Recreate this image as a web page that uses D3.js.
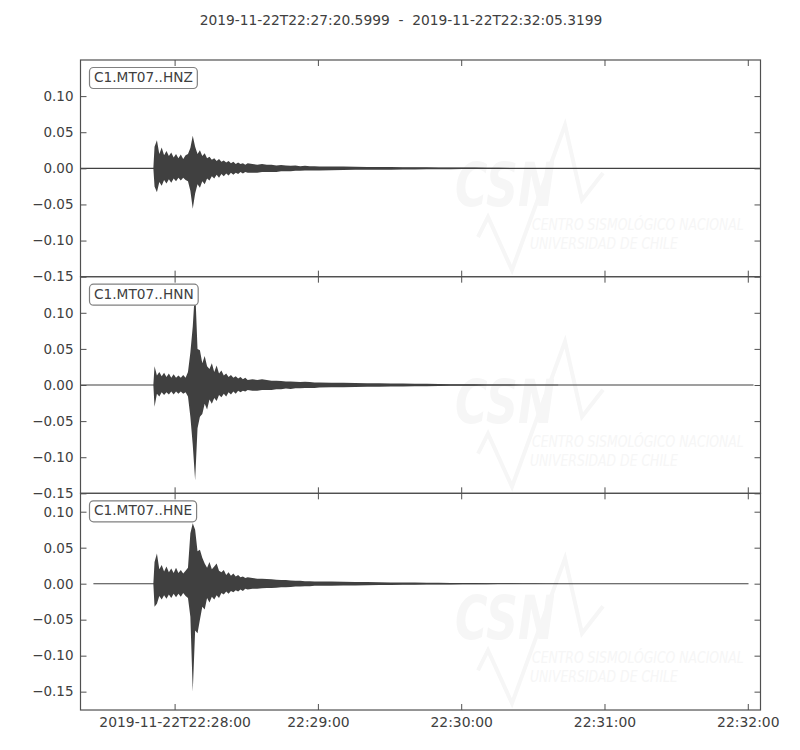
<!DOCTYPE html>
<html>
<head>
<meta charset="utf-8">
<script src="https://cdn.jsdelivr.net/npm/d3@7"></script>
<style>
  body { margin: 0; background: #fff; }
  svg text { font-family: "DejaVu Sans", sans-serif; fill: #404040; }
</style>
</head>
<body>
<svg id="chart" width="800" height="750"></svg>
<script>
// ---- data ----
const channels = ["C1.MT07..HNZ", "C1.MT07..HNN", "C1.MT07..HNE"];
const startLabel = "2019-11-22T22:27:20.5999";
const endLabel = "2019-11-22T22:32:05.3199";

// each trace start / end, seconds after the window start
const traceStartSec = [0, 0, 5.4];
const traceEndSec = [284.72, 281.8, 279.7];

// y range of every panel
const yLow = [-0.15, -0.15, -0.1755];
const yHigh = [0.15, 0.15, 0.1255];
const yTickValues = [0.10, 0.05, 0.00, -0.05, -0.10, -0.15];

// envelope sample times (s after start)
const tSec = [30.5,
  31, 32, 33, 34, 35, 36, 37, 38, 39, 40,
  41, 42, 43, 44, 45, 46, 47, 48, 49, 50,
  51, 52, 53, 54, 55, 56, 57, 58, 59, 60,
  61, 62, 63, 64, 65, 66, 67, 68, 69, 70,
  72, 74, 76, 78, 80, 82, 84, 86, 88, 90, 92, 94, 96, 98, 100,
  105, 110, 115, 120, 125, 130, 135, 140, 145, 150, 155, 160, 165, 170, 175, 180, 185, 190, 195, 200];

// HNZ upper / lower envelope
const zMax = [0,
  0.030, 0.039, 0.020, 0.029, 0.018, 0.024, 0.017, 0.022, 0.015, 0.020,
  0.014, 0.019, 0.013, 0.018, 0.020, 0.028, 0.045, 0.030, 0.020, 0.025,
  0.017, 0.021, 0.014, 0.016, 0.012, 0.014, 0.010, 0.013, 0.009, 0.011,
  0.008, 0.010, 0.007, 0.009, 0.006, 0.008, 0.006, 0.007, 0.005, 0.007,
  0.006, 0.005, 0.006, 0.005, 0.005, 0.004, 0.0045, 0.004, 0.0035, 0.004, 0.003, 0.0035, 0.003, 0.003, 0.0025,
  0.0025, 0.0025, 0.0022, 0.002, 0.002, 0.0018, 0.0016, 0.0015, 0.0014, 0.0013, 0.0012, 0.001, 0.001, 0.0008, 0.0007, 0.0006, 0.0005, 0.0004, 0.0003, 0.0002];
const zMin = [0,
  -0.025, -0.033, -0.019, -0.024, -0.016, -0.021, -0.015, -0.020, -0.014, -0.018,
  -0.013, -0.017, -0.013, -0.016, -0.018, -0.031, -0.056, -0.035, -0.022, -0.027,
  -0.018, -0.022, -0.014, -0.017, -0.011, -0.014, -0.009, -0.013, -0.008, -0.011,
  -0.007, -0.010, -0.006, -0.009, -0.006, -0.008, -0.005, -0.007, -0.005, -0.006,
  -0.006, -0.006, -0.005, -0.005, -0.005, -0.005, -0.004, -0.004, -0.004, -0.0035, -0.0035, -0.003, -0.003, -0.003, -0.003,
  -0.0025, -0.0022, -0.002, -0.002, -0.0018, -0.0018, -0.0015, -0.0015, -0.0013, -0.0012, -0.0011, -0.001, -0.001, -0.0008, -0.0007, -0.0006, -0.0005, -0.0004, -0.0003, -0.0002];

// HNN upper / lower envelope
const nMax = [0,
  0.026, 0.013, 0.018, 0.012, 0.017, 0.011, 0.016, 0.010, 0.015, 0.010,
  0.013, 0.010, 0.014, 0.010, 0.018, 0.045, 0.081, 0.135, 0.050, 0.048,
  0.030, 0.040, 0.026, 0.022, 0.030, 0.018, 0.027, 0.016, 0.020, 0.013,
  0.016, 0.011, 0.014, 0.010, 0.012, 0.009, 0.011, 0.008, 0.010, 0.007,
  0.008, 0.007, 0.008, 0.007, 0.006, 0.006, 0.0055, 0.005, 0.005, 0.0045, 0.004, 0.0045, 0.004, 0.0035, 0.0035,
  0.003, 0.003, 0.0028, 0.0025, 0.0023, 0.002, 0.002, 0.0018, 0.0016, 0.0014, 0.0012, 0.001, 0.0009, 0.0008, 0.0007, 0.0006, 0.0005, 0.0004, 0.0003, 0.0002];
const nMin = [0,
  -0.030, -0.012, -0.016, -0.010, -0.014, -0.010, -0.013, -0.009, -0.013, -0.009,
  -0.012, -0.009, -0.012, -0.010, -0.016, -0.044, -0.083, -0.132, -0.060, -0.044,
  -0.040, -0.026, -0.034, -0.020, -0.026, -0.018, -0.022, -0.014, -0.017, -0.012,
  -0.016, -0.010, -0.013, -0.009, -0.012, -0.008, -0.010, -0.008, -0.009, -0.007,
  -0.008, -0.008, -0.007, -0.007, -0.007, -0.006, -0.006, -0.005, -0.0055, -0.0045, -0.0045, -0.004, -0.004, -0.004, -0.0035,
  -0.003, -0.003, -0.0028, -0.0025, -0.0023, -0.002, -0.002, -0.0018, -0.0016, -0.0014, -0.0012, -0.001, -0.0009, -0.0008, -0.0007, -0.0006, -0.0005, -0.0004, -0.0003, -0.0002];

// HNE upper / lower envelope
const eMax = [0,
  0.030, 0.042, 0.020, 0.026, 0.017, 0.024, 0.016, 0.021, 0.015, 0.022,
  0.015, 0.019, 0.014, 0.018, 0.022, 0.070, 0.084, 0.075, 0.045, 0.047,
  0.036, 0.028, 0.022, 0.030, 0.020, 0.024, 0.028, 0.018, 0.016, 0.019,
  0.012, 0.016, 0.011, 0.014, 0.010, 0.012, 0.009, 0.010, 0.008, 0.009,
  0.008, 0.007, 0.007, 0.0065, 0.006, 0.0055, 0.005, 0.005, 0.0045, 0.004, 0.004, 0.0035, 0.0035, 0.003, 0.003,
  0.003, 0.0027, 0.0025, 0.0022, 0.002, 0.0018, 0.0016, 0.0015, 0.0013, 0.0012, 0.001, 0.0009, 0.0008, 0.0007, 0.0006, 0.0005, 0.0004, 0.0003, 0.0002, 0.0001];
const eMin = [0,
  -0.032, -0.028, -0.017, -0.022, -0.016, -0.021, -0.015, -0.020, -0.014, -0.019,
  -0.014, -0.018, -0.013, -0.017, -0.020, -0.046, -0.150, -0.065, -0.069, -0.050,
  -0.032, -0.036, -0.020, -0.026, -0.018, -0.022, -0.016, -0.020, -0.013, -0.015,
  -0.011, -0.014, -0.010, -0.012, -0.009, -0.011, -0.008, -0.010, -0.007, -0.008,
  -0.007, -0.007, -0.0065, -0.006, -0.006, -0.0055, -0.005, -0.005, -0.0045, -0.004, -0.004, -0.0035, -0.0035, -0.003, -0.003,
  -0.003, -0.0027, -0.0025, -0.0022, -0.002, -0.0018, -0.0016, -0.0015, -0.0013, -0.0012, -0.001, -0.0009, -0.0008, -0.0007, -0.0006, -0.0005, -0.0004, -0.0003, -0.0002, -0.0001];

const envMax = [zMax, nMax, eMax];
const envMin = [zMin, nMin, eMin];

// ---- layout ----
const svg = d3.select("#chart");
const plotLeft = 80.5, plotRight = 760.5, plotTop = 60, panelH = 216.67;
const ink = "#404040";
const faint = "#f6f6f6";

const t0 = Date.UTC(2019, 10, 22, 22, 27, 20, 600);
const at = s => new Date(t0 + s * 1000);

const x = d3.scaleUtc()
  .domain([at(0), at(284.72)])
  .range([plotLeft, plotRight]);

svg.append("text")
  .attr("x", 401).attr("y", 25)
  .attr("text-anchor", "middle")
  .attr("font-size", 13.8)
  .style("white-space", "pre")
  .text(startLabel + "  -  " + endLabel);

const fmtFirst = d3.utcFormat("%Y-%m-%dT%H:%M:%S");
const fmtRest = d3.utcFormat("%H:%M:%S");

// squeezed watermark text, fit to a given width
function wmText(sel, str, px, py, size, width, bold) {
  const t = sel.append("text")
    .attr("font-size", size).attr("font-style", "italic")
    .attr("font-weight", bold ? "bold" : null)
    .style("fill", faint).text(str);
  const w = t.node().getComputedTextLength();
  t.attr("transform", `translate(${px},${py}) scale(${width / w},1)`);
}

channels.forEach((name, i) => {
  const y0 = plotTop + i * panelH, y1 = y0 + panelH;
  const y = d3.scaleLinear().domain([yLow[i], yHigh[i]]).range([y1, y0]);
  const g = svg.append("g");

  g.append("clipPath").attr("id", "clip" + i)
    .append("rect").attr("x", plotLeft).attr("y", y0).attr("width", plotRight - plotLeft).attr("height", panelH);

  // faint CSN watermark (sits inside the panel)
  const wm = g.append("g").attr("transform", `translate(0,${y0})`);
  wm.append("path")
    .attr("d", "M478,177 L488,157 L512,210 L565,65 L582,140 L603,113")
    .attr("fill", "none").attr("stroke", faint).attr("stroke-width", 4);
  wmText(wm, "CSN", 455, 146, 60, 100, true);
  wmText(wm, "CENTRO SISMOLÓGICO NACIONAL", 532, 170, 16, 212, false);
  wmText(wm, "UNIVERSIDAD DE CHILE", 530, 189, 16, 148, false);

  // flat part of the trace
  const plot = g.append("g").attr("clip-path", `url(#clip${i})`);
  plot.append("line")
    .attr("x1", x(at(traceStartSec[i]))).attr("x2", x(at(traceEndSec[i])))
    .attr("y1", y(0)).attr("y2", y(0))
    .attr("stroke", ink).attr("stroke-width", 1.1);

  // waveform envelope
  const env = tSec.map((t, k) => ({ t: at(t), hi: envMax[i][k], lo: envMin[i][k] }));
  const area = d3.area()
    .x(d => x(d.t))
    .y0(d => y(d.lo))
    .y1(d => y(d.hi));
  plot.append("path")
    .datum(env)
    .attr("d", area)
    .attr("fill", ink).attr("stroke", "none");

  // frame
  g.append("rect")
    .attr("x", plotLeft).attr("y", y0).attr("width", plotRight - plotLeft).attr("height", panelH)
    .attr("fill", "none").attr("stroke", "#505050").attr("stroke-width", 1.2);

  // y axes (ticks inside)
  const yl = g.append("g").attr("transform", `translate(${plotLeft},0)`)
    .call(d3.axisLeft(y).tickValues(yTickValues).tickSize(-6).tickPadding(7).tickFormat(d3.format(".2f")));
  const yr = g.append("g").attr("transform", `translate(${plotRight},0)`)
    .call(d3.axisRight(y).tickValues(yTickValues).tickSize(-6).tickFormat(""));

  // x axes (ticks inside, labels only under last panel)
  const xt = g.append("g").attr("transform", `translate(0,${y0})`)
    .call(d3.axisTop(x).ticks(d3.utcMinute.every(1)).tickSize(-6).tickFormat(""));
  const xb = g.append("g").attr("transform", `translate(0,${y1})`)
    .call(d3.axisBottom(x).ticks(d3.utcMinute.every(1)).tickSize(-6).tickPadding(7)
      .tickFormat(i === channels.length - 1 ? ((d, k) => k === 0 ? fmtFirst(d) : fmtRest(d)) : ""));

  [yl, yr, xt, xb].forEach(a => {
    a.attr("font-size", 13.5).attr("font-family", null);
    a.select(".domain").remove();
    a.selectAll(".tick line").attr("stroke", "#505050");
    a.selectAll(".tick text").style("fill", ink);
  });
  xb.attr("font-size", 13.9);

  // channel label box
  const lab = g.append("g");
  const txt = lab.append("text")
    .attr("x", 94).attr("y", y0 + 22)
    .attr("font-size", 13.7)
    .text(name);
  const bb = txt.node().getBBox();
  lab.insert("rect", "text")
    .attr("x", bb.x - 4.5).attr("y", y0 + 7.5)
    .attr("width", bb.width + 9).attr("height", 21)
    .attr("rx", 4).attr("ry", 4)
    .attr("fill", "#fff").attr("stroke", "#808080").attr("stroke-width", 1.2);
});
</script>
</body>
</html>
